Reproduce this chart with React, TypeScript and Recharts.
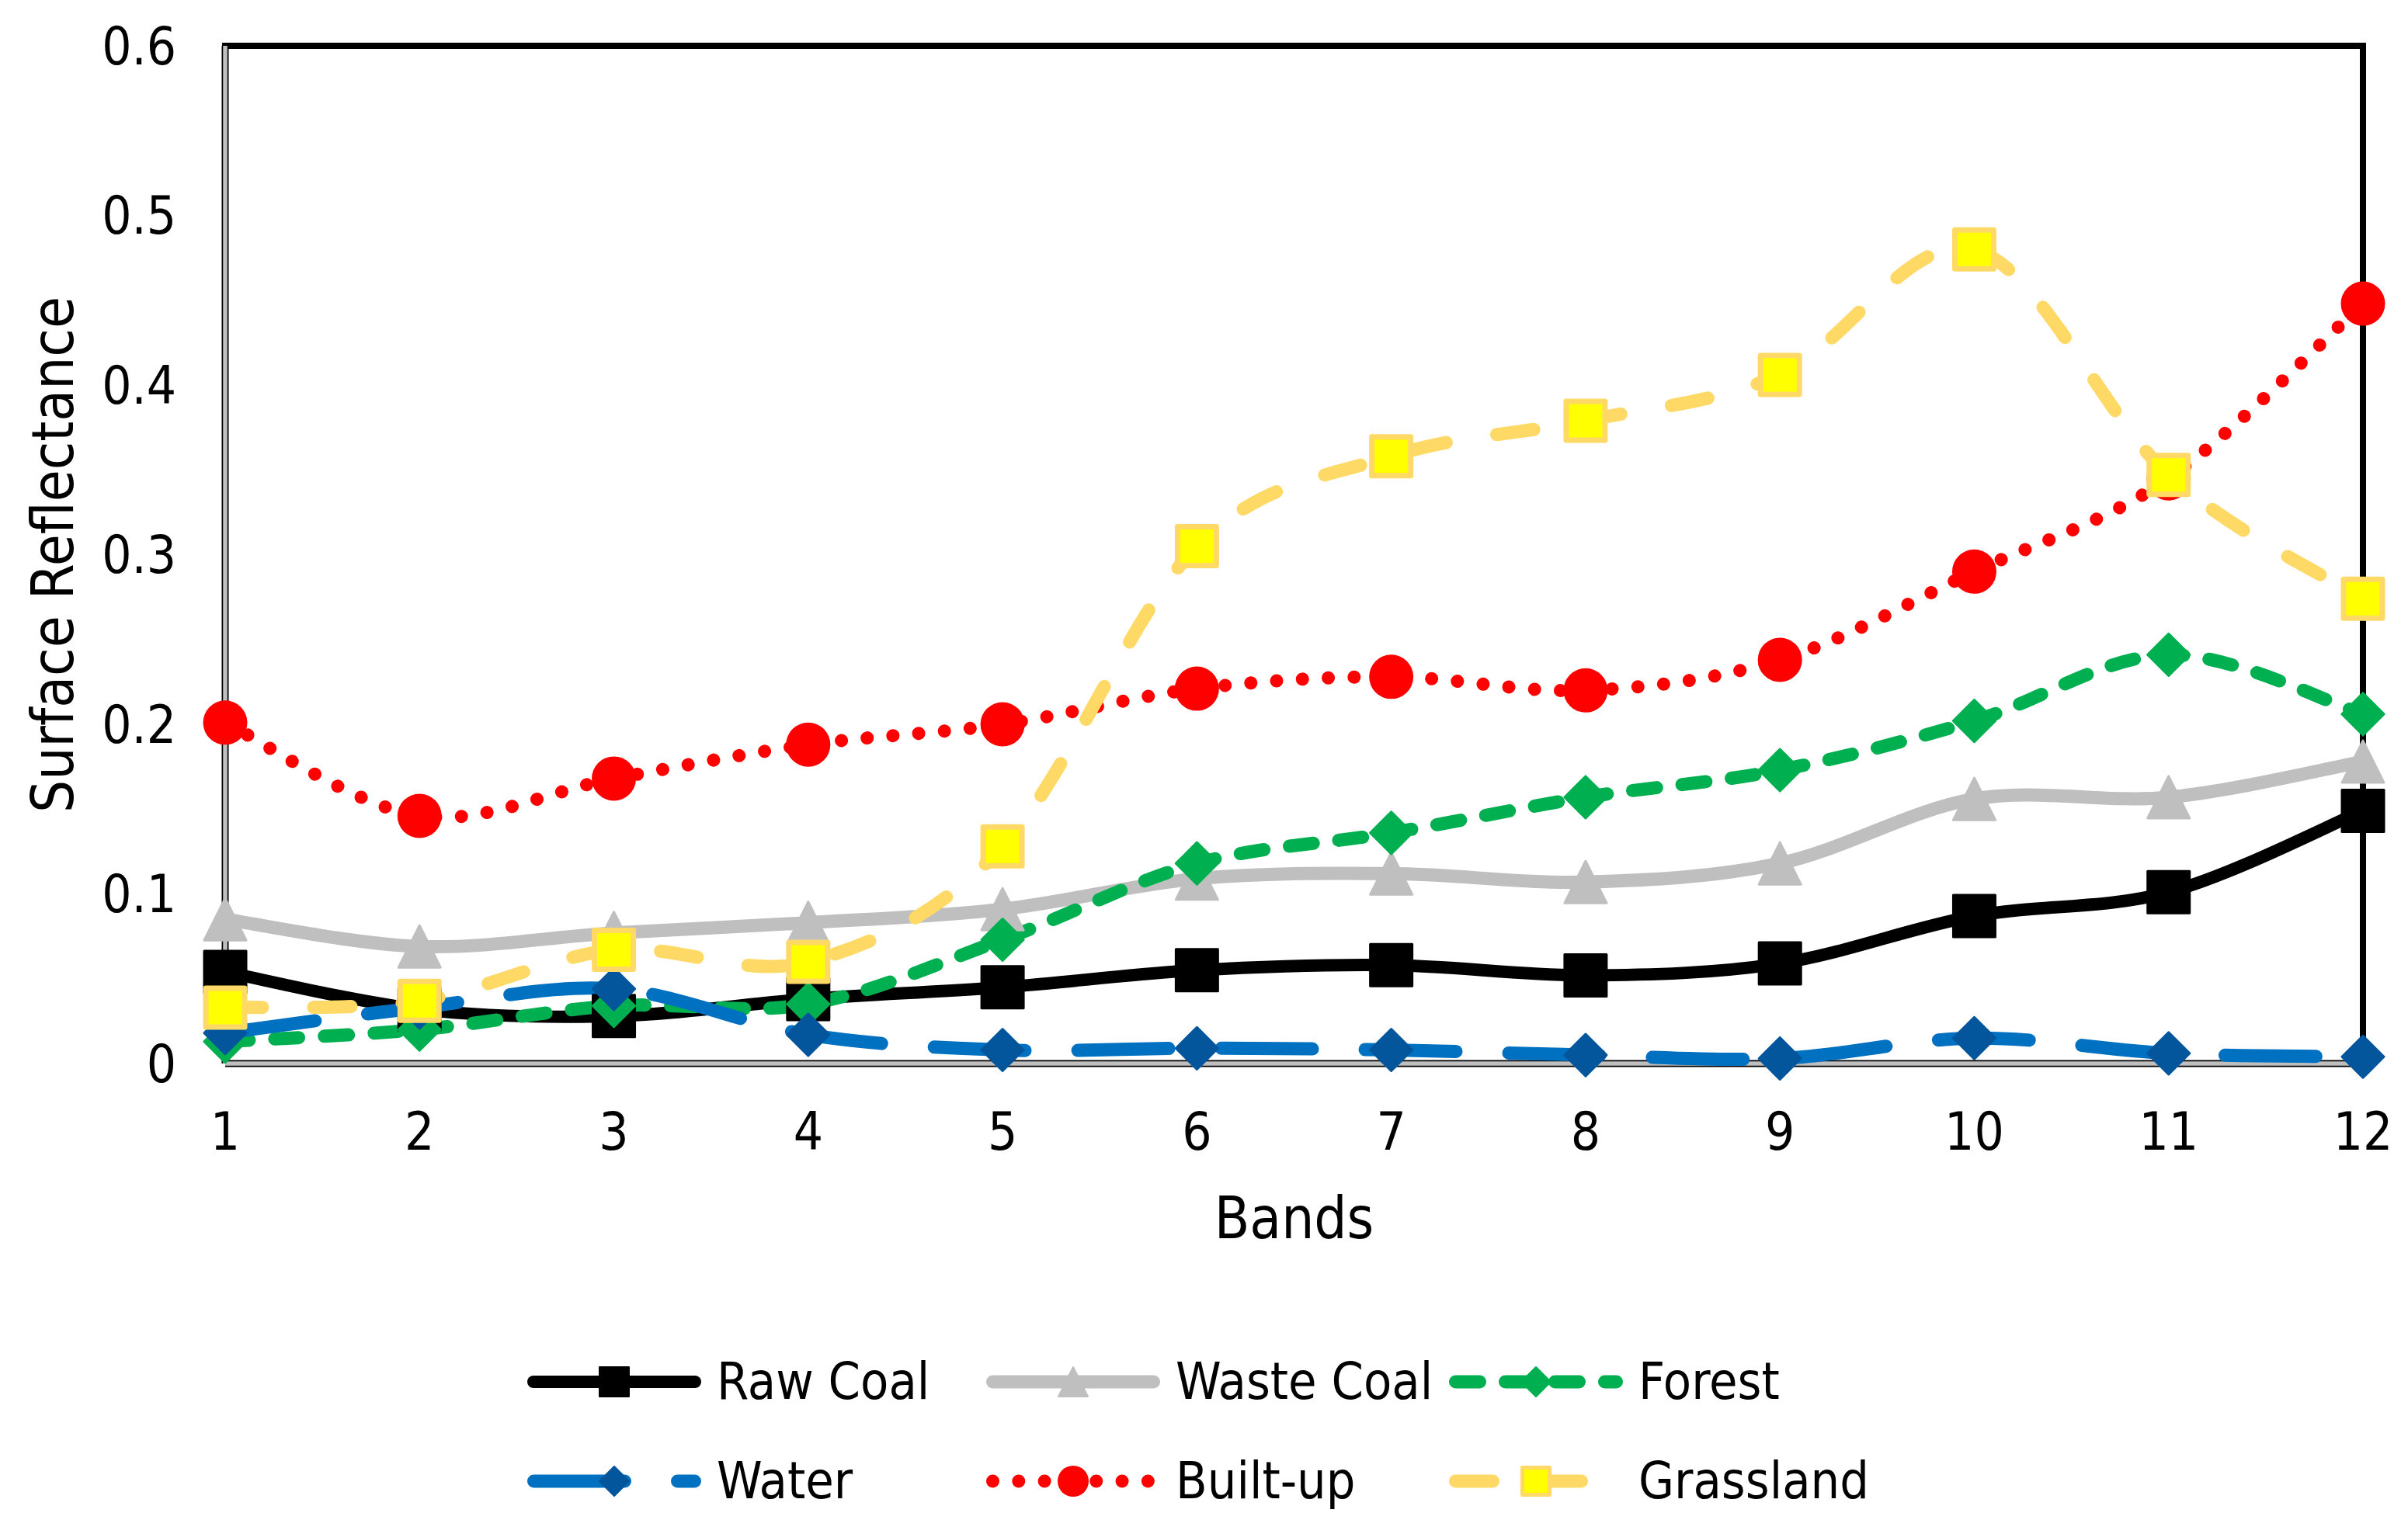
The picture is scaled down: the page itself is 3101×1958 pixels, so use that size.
import { Line, LineChart, ReferenceLine, XAxis, YAxis } from "recharts";

const BANDS = [1, 2, 3, 4, 5, 6, 7, 8, 9, 10, 11, 12];
const RAW_COAL = [0.054, 0.032, 0.028, 0.038, 0.045, 0.055, 0.058, 0.052, 0.059, 0.087, 0.101, 0.149];
const WASTE_COAL = [0.085, 0.069, 0.077, 0.083, 0.091, 0.109, 0.112, 0.107, 0.118, 0.156, 0.157, 0.178];
const FOREST = [0.013, 0.02, 0.034, 0.035, 0.073, 0.118, 0.136, 0.157, 0.173, 0.202, 0.241, 0.206];
const WATER = [0.018, 0.033, 0.044, 0.017, 0.008, 0.009, 0.008, 0.005, 0.003, 0.015, 0.006, 0.004];
const BUILT_UP = [0.201, 0.146, 0.168, 0.188, 0.2, 0.221, 0.228, 0.22, 0.238, 0.29, 0.345, 0.448];
const GRASSLAND = [0.033, 0.037, 0.067, 0.06, 0.128, 0.305, 0.358, 0.379, 0.406, 0.48, 0.347, 0.274];
const Y_TICKS = [0, 0.1, 0.2, 0.3, 0.4, 0.5, 0.6];

const data = BANDS.map((band, i) => ({
  band,
  rawCoal: RAW_COAL[i],
  wasteCoal: WASTE_COAL[i],
  forest: FOREST[i],
  water: WATER[i],
  builtUp: BUILT_UP[i],
  grassland: GRASSLAND[i],
}));

const FONT = '"DejaVu Sans Condensed", "DejaVu Sans", sans-serif';

type Shape = "square" | "triangle" | "diamond" | "circle";

const SERIES = [
  { key: "rawCoal", name: "Raw Coal", color: "#000000", width: 16, dash: undefined, shape: "square", fill: "#000000", edge: "#000000", edgeW: 3 },
  { key: "wasteCoal", name: "Waste Coal", color: "#BFBFBF", width: 17, dash: undefined, shape: "triangle", fill: "#BFBFBF", edge: "#BFBFBF", edgeW: 3 },
  { key: "forest", name: "Forest", color: "#00B050", width: 17, dash: "31 33", shape: "diamond", fill: "#00B050", edge: "#00B050", edgeW: 3 },
  { key: "water", name: "Water", color: "#0070C0", width: 17, dash: "117 68", shape: "diamond", fill: "#03559C", edge: "#03559C", edgeW: 3 },
  { key: "builtUp", name: "Built-up", color: "#FF0000", width: 17, dash: "0.01 33.3", shape: "circle", fill: "#FF0000", edge: "#FF0000", edgeW: 0 },
  { key: "grassland", name: "Grassland", color: "#FFD966", width: 17, dash: "48 66", shape: "square", fill: "#FFFF00", edge: "#FFD966", edgeW: 7 },
] as const;

// Excel-style smoothing (Catmull-Rom through the points)
function excelSmooth(context: any) {
  let pts: [number, number][] = [];
  return {
    areaStart() {},
    areaEnd() {},
    lineStart() {
      pts = [];
    },
    lineEnd() {
      const n = pts.length;
      if (!n) return;
      context.moveTo(pts[0][0], pts[0][1]);
      for (let i = 0; i < n - 1; i++) {
        const p0 = pts[Math.max(i - 1, 0)];
        const p1 = pts[i];
        const p2 = pts[i + 1];
        const p3 = pts[Math.min(i + 2, n - 1)];
        context.bezierCurveTo(
          p1[0] + (p2[0] - p0[0]) / 6,
          p1[1] + (p2[1] - p0[1]) / 6,
          p2[0] - (p3[0] - p1[0]) / 6,
          p2[1] - (p3[1] - p1[1]) / 6,
          p2[0],
          p2[1]
        );
      }
    },
    point(x: number, y: number) {
      pts.push([+x, +y]);
    },
  };
}

function Marker({ shape, cx, cy, size, fill, edge, edgeW }: any) {
  if (cx == null || cy == null) return null;
  const inner = size - edgeW;
  const h = inner / 2;
  const common = { fill, stroke: edge, strokeWidth: edgeW, strokeLinejoin: "round" as const };
  switch (shape as Shape) {
    case "square":
      return <rect x={cx - h} y={cy - h} width={inner} height={inner} {...common} />;
    case "triangle":
      return <polygon points={`${cx},${cy - h} ${cx + h},${cy + h} ${cx - h},${cy + h}`} {...common} />;
    case "diamond":
      return <polygon points={`${cx},${cy - h} ${cx + h},${cy} ${cx},${cy + h} ${cx - h},${cy}`} {...common} />;
    default:
      return <circle cx={cx} cy={cy} r={size / 2} fill={fill} />;
  }
}

const LEGEND_COLS = [679, 1270, 1866];
const LEGEND_ROWS = [1780, 1908];
const LEGEND_LEN = 224;

function LegendBox() {
  return (
    <svg width={3101} height={1958} style={{ position: "absolute", left: 0, top: 0, pointerEvents: "none" }}>
      {SERIES.map((s, i) => {
        const x0 = LEGEND_COLS[i % 3];
        const y = LEGEND_ROWS[Math.floor(i / 3)];
        const half = s.width / 2;
        return (
          <g key={s.key}>
            <line
              x1={x0 + half}
              x2={x0 + LEGEND_LEN - half}
              y1={y}
              y2={y}
              stroke={s.color}
              strokeWidth={s.width}
              strokeDasharray={s.dash}
              strokeLinecap="round"
            />
            <Marker shape={s.shape} cx={x0 + LEGEND_LEN / 2} cy={y} size={40} fill={s.fill} edge={s.edge} edgeW={s.edgeW ? Math.max(2, s.edgeW * 0.7) : 0} />
            <text x={x0 + LEGEND_LEN + 20} y={y + 22} fontSize={66} fontFamily={FONT} fill="#000">
              {s.name}
            </text>
          </g>
        );
      })}
    </svg>
  );
}

export default function App() {
  return (
    <div style={{ position: "relative", width: 3101, height: 1958, background: "#fff" }}>
      <style>{`body{margin:0}`}</style>
      <LineChart width={3101} height={1958} data={data} margin={{ top: 59, right: 58, bottom: 258, left: 0 }}>
        <XAxis
          dataKey="band"
          type="number"
          domain={[1, 12]}
          ticks={BANDS}
          interval={0}
          axisLine={false}
          tickLine={false}
          tickSize={0}
          tickMargin={63}
          height={330}
          tick={{ fill: "#000", fontSize: 67, fontFamily: FONT }}
          label={{
            content: ({ viewBox }: any) => (
              <text x={viewBox.x + viewBox.width / 2} y={viewBox.y + 225} textAnchor="middle" fontSize={74} fontFamily={FONT} fill="#000">
                Bands
              </text>
            ),
          }}
        />
        <YAxis
          type="number"
          domain={[0, 0.6]}
          ticks={Y_TICKS}
          interval={0}
          width={290}
          axisLine={false}
          tickLine={false}
          tickSize={0}
          tickMargin={63}
          tickFormatter={(v: number) => (v === 0 ? "0" : String(v))}
          tick={{ fill: "#000", fontSize: 67, fontFamily: FONT }}
          label={{
            content: ({ viewBox }: any) => {
              const x = viewBox.x + 94;
              const y = viewBox.y + viewBox.height / 2;
              return (
                <text x={x} y={y} transform={`rotate(-90, ${x}, ${y})`} textAnchor="middle" fontSize={74} fontFamily={FONT} fill="#000">
                  Surface Reflectance
                </text>
              );
            },
          }}
        />
        <ReferenceLine y={0.6} stroke="#000" strokeWidth={8} strokeLinecap="square" />
        <ReferenceLine x={12} stroke="#000" strokeWidth={8} strokeLinecap="square" />
        <ReferenceLine y={0} stroke="#000" strokeWidth={9} />
        <ReferenceLine x={1} stroke="#000" strokeWidth={9} />
        <ReferenceLine y={0} stroke="#BFBFBF" strokeWidth={5.5} />
        <ReferenceLine x={1} stroke="#BFBFBF" strokeWidth={5.5} />
        {SERIES.map((s) => (
          <Line
            key={s.key}
            dataKey={s.key}
            name={s.name}
            type={excelSmooth as any}
            stroke={s.color}
            strokeWidth={s.width}
            strokeDasharray={s.dash}
            strokeLinecap="round"
            isAnimationActive={false}
            activeDot={false}
            dot={(p: any) => (
              <Marker key={`${s.key}-${p.index}`} shape={s.shape} cx={p.cx} cy={p.cy} size={57} fill={s.fill} edge={s.edge} edgeW={s.edgeW} />
            )}
          />
        ))}
      </LineChart>
      <LegendBox />
    </div>
  );
}
